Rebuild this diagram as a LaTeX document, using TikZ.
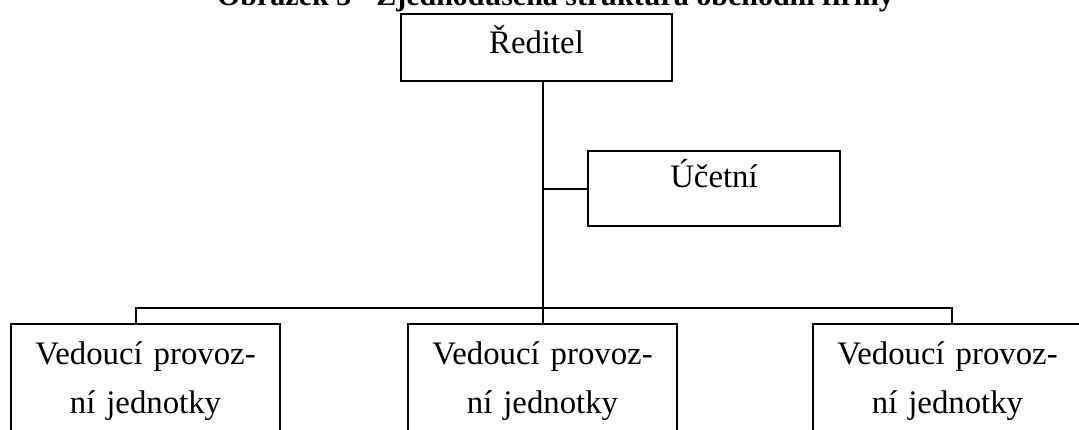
\documentclass[tikz,border=0pt]{standalone}
\usepackage{fontspec}
\setmainfont{Liberation Serif}
\usetikzlibrary{calc}

\begin{document}
\begin{tikzpicture}[x=1pt,y=1pt,
  line width=2pt,
  every node/.style={draw=black,line width=2pt,inner sep=0pt,
    font=\fontsize{32.8}{49}\selectfont},
  unit/.style={text width=269pt,align=center,anchor=north}]
  \useasboundingbox (0,0) rectangle (1079,430);
  \clip (0,0) rectangle (1079,430);
  \node[draw=none,anchor=base,font=\fontsize{30}{36}\selectfont\bfseries] (title)
    at (555.5,424.5) {Obrázek 3 - Zjednodušená struktura obchodní firmy};
  \node[anchor=north,minimum width=271pt,text height=40pt,text depth=27pt] (dir)
    at (536.5,417) {Ředitel};
  \node[anchor=north,minimum width=252pt,text height=37pt,text depth=38.5pt] (acc)
    at (714,280) {Účetní};
  \node[unit] (left) at (145.5,107)
    {\rule{0pt}{41pt}Vedoucí provoz-\\ní jednotky\rule[-40pt]{0pt}{0pt}};
  \node[unit] (mid) at (542.5,107)
    {\rule{0pt}{41pt}Vedoucí provoz-\\ní jednotky\rule[-40pt]{0pt}{0pt}};
  \node[unit] (right) at (947.5,107)
    {\rule{0pt}{41pt}Vedoucí provoz-\\ní jednotky\rule[-40pt]{0pt}{0pt}};
  % connectors
  \coordinate (ldrop) at (136,122);
  \coordinate (rdrop) at (952,122);
  \draw (mid.north) -- (mid.north |- dir.south);
  \draw (acc.west) -- (acc.west -| mid.north);
  \draw (ldrop |- left.north) -- (ldrop) -- (rdrop) -- (rdrop |- right.north);
\end{tikzpicture}
\end{document}
